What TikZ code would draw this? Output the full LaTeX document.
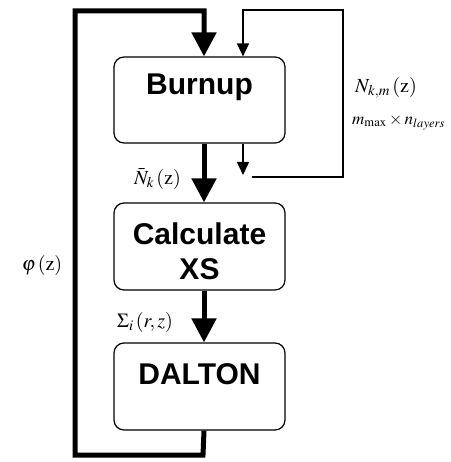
\documentclass[tikz,border=0pt]{standalone}
\usepackage{mathptmx}
\usepackage{fontspec}
\setsansfont{Liberation Sans}
\setmainfont{Liberation Serif}
\usetikzlibrary{arrows.meta}
\begin{document}
\begin{tikzpicture}[x=1pt,y=-1pt,
  procbox/.style={draw,line width=1.2pt,rounded corners=10pt,minimum width=171pt,inner sep=0pt},
  boxtext/.style={font=\sffamily\bfseries\fontsize{30}{35}\selectfont,align=center,inner sep=0pt},
  thickline/.style={line width=5pt,line join=miter},
  thickarrow/.style={thickline,-{Triangle[width=24pt,length=24pt]}},
  thinline/.style={line width=1.5pt},
  thinarrow/.style={thinline,-{Triangle[width=12pt,length=13pt]}},
  mathlabel/.style={font=\fontsize{20}{24}\selectfont,inner sep=0pt}]
\useasboundingbox (0,0) rectangle (450,462);
% boxes
\node[procbox,minimum height=86pt] (burnup) at (199.5,100) {};
\node[procbox,minimum height=87pt] (calc) at (199.5,246.5) {};
\node[procbox,minimum height=87pt] (dalton) at (199.5,386.5) {};
\node[boxtext] (tburnup) at (199.5,87) {Burnup};
\node[boxtext] (tcalc) at (199.5,251) {Calculate\\XS};
\node[boxtext] (tdalton) at (199.5,374) {DALTON};
% columns
\coordinate (cx) at (204,0);
\coordinate (tx) at (243,0);
% thick arrows
\draw[thickarrow] (cx |- burnup.south) -- (cx |- calc.north);
\draw[thickarrow] (cx |- calc.south) -- (cx |- dalton.north);
\coordinate (lb) at (203,455);
\coordinate (ll) at (75,455);
\coordinate (lt) at (75,11);
\coordinate (rt) at (204,11);
\draw[thickarrow] (cx |- dalton.south) -- (lb) -- (ll) -- (lt) -- (rt) -- (cx |- burnup.north);
% thin loop
\coordinate (tb) at (243,175);
\coordinate (hb) at (252,177);
\coordinate (rb) at (343,177);
\coordinate (rtop) at (343,10);
\coordinate (ttop) at (243,10);
\draw[thinarrow] (tx |- burnup.south) -- (tb);
\draw[thinarrow,line join=miter] (hb) -- (rb) -- (rtop) -- (ttop) -- (tx |- burnup.north);
% labels
\node[mathlabel,anchor=west] (lnkm) at (355,88) {$N_{k,m}\,(\mathrm{z})$};
\node[mathlabel,anchor=west,font=\fontsize{17}{20}\selectfont] (lmax) at (352,122) {$m_{\max}\times n_{layers}$};
\node[mathlabel,anchor=east] (lnbar) at (181,179) {$\bar{N}_{k}\,(\mathrm{z})$};
\node[mathlabel] (lphi) at (42,265) {$\varphi\,(\mathrm{z})$};
\node[mathlabel,anchor=west] (lsig) at (117,322) {$\Sigma_{i}\,(r,z)$};
\end{tikzpicture}
\end{document}
